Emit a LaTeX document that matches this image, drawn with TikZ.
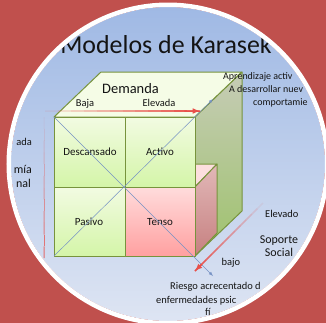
\documentclass[tikz,border=0pt]{standalone}
\usepackage{fontspec}
\setmainfont{Carlito}
\usetikzlibrary{calc}

\definecolor{slidered}{RGB}{192,80,77}
\definecolor{skytop}{RGB}{158,184,228}
\definecolor{skybottom}{RGB}{222,229,243}
\definecolor{cubeedge}{RGB}{119,147,60}
\definecolor{lidfill}{RGB}{245,252,230}
\definecolor{sidetop}{RGB}{198,204,182}
\definecolor{sidebottom}{RGB}{158,194,108}
\definecolor{greentop}{RGB}{242,251,226}
\definecolor{greenbottom}{RGB}{212,245,168}
\definecolor{pinktop}{RGB}{255,220,220}
\definecolor{pinkbottom}{RGB}{255,160,160}
\definecolor{rosetop}{RGB}{226,184,184}
\definecolor{rosebottom}{RGB}{198,128,128}
\definecolor{rosepale}{RGB}{252,222,222}
\definecolor{axisred}{RGB}{232,80,74}
\definecolor{diagblue}{RGB}{118,146,196}
\definecolor{inktext}{RGB}{20,20,20}

\begin{document}
\begin{tikzpicture}[x=1bp,y=1bp]
\tikzset{
  every node/.style={inner sep=0pt, text=inktext},
  face/.style={draw=cubeedge, line width=1bp, line join=round},
  diagline/.style={diagblue, line width=0.5bp, -latex},
  cell/.style={font=\fontsize{11}{13}\selectfont, anchor=base},
  note/.style={font=\fontsize{10.5}{12.5}\selectfont},
  small/.style={font=\fontsize{10}{12}\selectfont, anchor=base west},
  axisname/.style={font=\fontsize{12}{14}\selectfont},
  redaxis/.style={axisred, line width=1.5bp}
}
\useasboundingbox (0,0) rectangle (326,-323);
\fill [slidered] (0,0) rectangle (326,-323);
\coordinate (ctr) at (168,-164);

\begin{scope}
\clip (ctr) circle (157);
\shade [top color=skytop, bottom color=skybottom] (0,0) rectangle (326,-323);

% corners of the cube
\coordinate (ftl) at (54,-117);
\coordinate (ftr) at (195,-117);
\coordinate (fbr) at (195,-256);
\coordinate (fbl) at (54,-256);
\coordinate (mtop) at (125,-117);
\coordinate (mbot) at (125,-256);
\coordinate (mleft) at (54,-187);
\coordinate (mright) at (195,-187);
\coordinate (mid) at (125,-187);
\coordinate (btl) at (101,-72);
\coordinate (btr) at (242,-72);
\coordinate (bbr) at (242,-211);
\coordinate (pback) at (147,-164);
\coordinate (ptop) at (217,-164);
\coordinate (pbot) at (217,-233);

% lid and sides
\draw [face, fill=lidfill] (ftl) -- (ftr) -- (btr) -- (btl) -- cycle;
\draw [face, top color=sidetop, bottom color=sidebottom] (ftr) -- (btr) -- (bbr) -- (fbr) -- cycle;
\draw [face, fill=rosepale] (mid) -- (mright) -- (ptop) -- (pback) -- cycle;
\draw [face, top color=rosetop, bottom color=rosebottom] (mright) -- (ptop) -- (pbot) -- (fbr) -- cycle;

% front quadrants
\draw [face, top color=greentop, bottom color=greenbottom] (ftl) rectangle (mid);
\draw [face, top color=greentop, bottom color=greenbottom] (mtop) rectangle (mright);
\draw [face, top color=greentop, bottom color=greenbottom] (mleft) rectangle (mbot);
\draw [face, top color=pinktop, bottom color=pinkbottom] (mid) rectangle (fbr);

\node [cell] (descansado) at (90,-155) {Descansado};
\node [cell] (activo) at (160,-155) {Activo};
\node [cell] (pasivo) at (89,-225) {Pasivo};
\node [cell] (tenso) at (160,-225) {Tenso};

% diagonals
\coordinate (d1end) at (213,-276);
\coordinate (d2end) at (213,-99);
\draw [diagline] (ftl) -- (d1end);
\draw [diagline] (fbl) -- (d2end);

% red axes, fading in
\coordinate (hs) at (45,-111);
\coordinate (he) at (200,-111);
\coordinate (vs) at (44,-117);
\coordinate (ve) at (44,-258);
\coordinate (ds) at (263,-203);
\coordinate (de) at (195,-271);
\foreach \i [evaluate=\i as \op using \i/12] in {1,...,12} {
  \draw [redaxis, draw opacity=\op] ($(hs)!{(\i-1)/12}!(he)$) -- ($(hs)!{\i/12}!(he)$);
  \draw [redaxis, line width=1bp, draw opacity=\op*0.8] ($(vs)!{(\i-1)/12}!(ve)$) -- ($(vs)!{\i/12}!(ve)$);
  \draw [redaxis, draw opacity=\op] ($(ds)!{(\i-1)/12}!(de)$) -- ($(ds)!{\i/12}!(de)$);
}
\draw [redaxis, -latex] ($(hs)!0.9!(he)$) -- (he);
\draw [redaxis, -latex] ($(ds)!0.9!(de)$) -- (de);

% texts
\node [font=\fontsize{26}{30}\selectfont, anchor=base] (title) at (166,-53) {Modelos de Karasek};
\node [font=\fontsize{14.5}{17}\selectfont, anchor=base] (demanda) at (130.5,-93) {Demanda};
\node [note, anchor=base] (baja) at (85,-106) {Baja};
\node [note, anchor=base] (elevada) at (159,-106) {Elevada};
\node [small] (aprend) at (223,-79) {Aprendizaje activ};
\node [small] (desarr) at (229,-92) {A desarrollar nuev};
\node [small] (compor) at (253,-105) {comportamie};
\node [note, anchor=base east] (ada) at (32,-145) {ada};
\node [axisname, anchor=base east] (mia) at (32,-173) {mía};
\node [axisname, anchor=base east] (nal) at (31,-187) {nal};
\node [note, anchor=base west] (elevado) at (265,-217) {Elevado};
\node [axisname, anchor=base] (soporte) at (279,-243) {Soporte};
\node [axisname, anchor=base] (social) at (279,-256) {Social};
\node [note, anchor=base] (bajo) at (231,-265) {bajo};
\node [note, anchor=base west] (riesgo) at (170,-289) {Riesgo acrecentado d};
\node [note, anchor=base west] (enferm) at (156,-303) {enfermedades psic};
\node [note, anchor=base west] (fisic) at (205,-315) {fí};
\end{scope}

\draw [white, line width=4.5bp] (ctr) circle (159.25);
\end{tikzpicture}
\end{document}
